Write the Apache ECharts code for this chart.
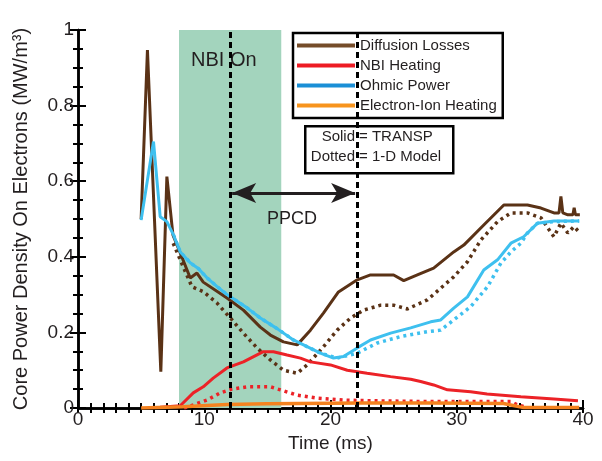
<!DOCTYPE html>
<html>
<head>
<meta charset="utf-8">
<script src="https://cdn.jsdelivr.net/npm/echarts@6.0.0/dist/echarts.min.js"></script>
<style>
html,body{margin:0;padding:0;background:#fff;}
#main{width:602px;height:461px;}
</style>
</head>
<body>
<div id="main"></div>
<script>
// time (ms), power density (MW/m^3) -- TRANSP (solid)
var diffusionTransp = [[5.0,0.50],[5.5,0.947],[6.56,0.096],[7.04,0.612],[7.52,0.458],[8.1,0.41],[8.89,0.344],[9.42,0.357],[9.92,0.333],[11.8,0.291],[13.1,0.259],[14.44,0.214],[15.24,0.193],[16.27,0.175],[17.36,0.167],[18.41,0.206],[19.44,0.251],[20.63,0.307],[22.12,0.339],[23.17,0.352],[25.0,0.352],[25.8,0.337],[26.88,0.352],[28.17,0.37],[29.76,0.413],[30.56,0.431],[32.14,0.484],[33.73,0.537],[35.6,0.537],[36.67,0.529],[37.7,0.516],[38.1,0.516],[38.25,0.56],[38.4,0.516],[38.8,0.511],[39.2,0.511],[39.3,0.53],[39.4,0.511],[39.75,0.511]];
var nbiTransp = [[6.5,0.002],[8.1,0.006],[9.13,0.04],[9.92,0.056],[10.71,0.079],[11.8,0.106],[13.1,0.122],[14.68,0.149],[15.48,0.149],[16.56,0.14],[17.62,0.132],[18.41,0.122],[20.0,0.114],[21.33,0.1],[22.9,0.092],[24.76,0.083],[26.35,0.076],[27.14,0.07],[28.17,0.061],[29.26,0.048],[31.1,0.043],[32.4,0.037],[35.08,0.03],[37.7,0.024],[39.6,0.019]];
var ohmicTransp = [[5.0,0.497],[5.98,0.705],[6.51,0.506],[7.04,0.493],[7.56,0.458],[8.1,0.413],[8.89,0.384],[9.5,0.37],[10.2,0.345],[11.0,0.322],[11.8,0.3],[13.39,0.265],[14.44,0.238],[15.77,0.21],[17.06,0.18],[17.86,0.167],[19.2,0.145],[20.24,0.132],[21.03,0.136],[22.12,0.159],[23.17,0.18],[24.76,0.198],[26.35,0.212],[27.94,0.228],[28.73,0.233],[29.76,0.264],[30.85,0.294],[32.14,0.365],[33.23,0.392],[34.29,0.436],[35.3,0.453],[36.4,0.489],[37.7,0.495],[39.7,0.495]];
var eiTransp = [[5.0,0.0],[8.3,0.003],[11.8,0.009],[15.0,0.011],[22.5,0.013],[28.0,0.013],[33.7,0.012],[35.3,0.001],[39.7,0.001]];

// 1-D model (dotted)
var diffusionModel = [[7.54,0.436],[8.33,0.374],[9.02,0.321],[9.92,0.308],[11.0,0.278],[12.2,0.233],[13.1,0.198],[14.18,0.159],[15.24,0.127],[16.27,0.1],[17.36,0.092],[18.15,0.114],[19.44,0.162],[20.53,0.206],[21.59,0.238],[22.62,0.259],[23.97,0.272],[25.0,0.272],[26.09,0.262],[27.67,0.286],[28.73,0.317],[29.76,0.347],[30.85,0.387],[31.9,0.444],[33.23,0.493],[34.29,0.516],[35.6,0.516],[36.67,0.503],[37.7,0.453],[38.25,0.489],[38.8,0.463],[39.29,0.48],[39.76,0.463]];
var nbiModel = [[8.4,0.0],[9.13,0.008],[10.21,0.021],[11.27,0.04],[12.2,0.05],[13.39,0.056],[15.24,0.056],[16.03,0.048],[17.36,0.034],[18.94,0.026],[21.03,0.021],[23.41,0.019],[27.94,0.017],[34.29,0.017],[34.82,0.008],[35.3,0.004]];
var ohmicModel = [[7.56,0.458],[8.1,0.413],[8.89,0.384],[9.5,0.37],[10.2,0.345],[11.0,0.322],[11.8,0.3],[13.39,0.265],[14.44,0.238],[15.77,0.21],[17.06,0.18],[17.86,0.167],[19.2,0.145],[20.53,0.132],[22.12,0.145],[23.7,0.172],[25.56,0.189],[27.67,0.202],[28.73,0.206],[29.76,0.233],[31.1,0.268],[32.44,0.321],[33.49,0.383],[34.29,0.413],[35.08,0.436],[35.6,0.463],[36.4,0.489],[37.7,0.493],[39.7,0.495]];

var legendNames = ['Diffusion Losses','NBI Heating','Ohmic Power','Electron-Ion Heating'];
var nbiWindow = [8.0, 16.1];     // NBI on, ms
var ppcdWindow = [12.06, 22.1];  // PPCD, ms
var arrowLevel = 0.569;

var BROWN = '#5a3216', RED = '#ec2227', BLUE = '#3ec0ef', ORANGE = '#f5821f';
var FONT = 'Liberation Sans';

function solid(name, data, color, w) {
	return {
		name: name, type: 'line', data: data, symbol: 'none', silent: true,
		lineStyle: { color: color, width: w || 3 }, itemStyle: { color: color }
	};
}
function dotted(name, data, color) {
	return {
		name: name, type: 'line', data: data, symbol: 'none', silent: true,
		lineStyle: { color: color, width: 3.5, type: [3, 4], cap: 'butt' }, itemStyle: { color: color }
	};
}

var chart = echarts.init(document.getElementById('main'));

var series = [
	dotted('Diffusion Losses 1-D', diffusionModel, BROWN),
	dotted('Ohmic Power 1-D', ohmicModel, BLUE),
	dotted('NBI Heating 1-D', nbiModel, RED),
	solid('Diffusion Losses', diffusionTransp, BROWN),
	solid('Ohmic Power', ohmicTransp, BLUE),
	solid('NBI Heating', nbiTransp, RED),
	solid('Electron-Ion Heating', eiTransp, ORANGE, 3.5)
];

// green band for NBI
series[0].markArea = {
	silent: true,
	itemStyle: { color: '#a3d4bd', opacity: 1 },
	data: [[{ xAxis: nbiWindow[0] }, { xAxis: nbiWindow[1] }]]
};
// PPCD dashed lines + double arrow
series[6].markLine = {
	silent: true,
	symbol: 'none',
	label: { show: false },
	lineStyle: { color: '#000', width: 3, type: [6, 4] },
	data: [
		{ xAxis: ppcdWindow[0] },
		{ xAxis: ppcdWindow[1] },
		[
			{ coord: [ppcdWindow[0] + 0.15, arrowLevel], symbol: 'arrow', symbolSize: [15, 24],
			  lineStyle: { type: 'solid', width: 3, color: '#231f20' } },
			{ coord: [ppcdWindow[1] - 0.15, arrowLevel], symbol: 'arrow', symbolSize: [15, 24] }
		]
	]
};

var axisLine = { show: true, lineStyle: { color: '#000', width: 2.5 } };
var tickStyle = { color: '#000', width: 2 };

var option = {
	backgroundColor: '#fff',
	animation: false,
	grid: { left: 78, right: 19, top: 30, bottom: 53 },
	legend: {
		orient: 'vertical', left: 293, top: 33,
		padding: [5, 6, 5, 4], itemGap: 5,
		borderColor: '#000', borderWidth: 2.5, backgroundColor: '#fff',
		itemWidth: 58, itemHeight: 4, icon: 'rect', selectedMode: false,
		textStyle: { fontFamily: FONT, fontSize: 15, color: '#231f20' },
		data: [
			{ name: legendNames[0], itemStyle: { color: '#754c29' } },
			{ name: legendNames[1], itemStyle: { color: '#ed1c24' } },
			{ name: legendNames[2], itemStyle: { color: '#1b8fd6' } },
			{ name: legendNames[3], itemStyle: { color: '#f7941d' } }
		]
	},
	xAxis: [{
		type: 'value', min: 0, max: 40, interval: 10, position: 'bottom',
		name: 'Time (ms)', nameLocation: 'middle', nameGap: 21,
		nameTextStyle: { fontFamily: FONT, fontSize: 19, color: '#231f20' },
		axisLine: axisLine,
		axisTick: { inside: true, length: 8, lineStyle: tickStyle },
		minorTick: { show: true, splitNumber: 10, length: 5, lineStyle: tickStyle },
		axisLabel: { fontFamily: FONT, fontSize: 19, color: '#231f20', margin: 2 },
		splitLine: { show: false }
	}, {
		type: 'value', min: 0, max: 40, interval: 10, position: 'top',
		axisLine: axisLine,
		axisTick: { inside: true, length: 5, lineStyle: tickStyle },
		minorTick: { show: true, splitNumber: 10, length: 5, lineStyle: tickStyle },
		axisLabel: { show: false }, splitLine: { show: false }
	}],
	yAxis: [{
		type: 'value', min: 0, max: 1, interval: 0.2, position: 'left',
		name: 'Core Power Density On Electrons (MW/m³)', nameLocation: 'middle', nameGap: 47,
		nameTextStyle: { fontFamily: FONT, fontSize: 20, color: '#231f20' },
		axisLine: axisLine,
		axisTick: { inside: true, length: 8, lineStyle: tickStyle },
		minorTick: { show: true, splitNumber: 4, length: 5, lineStyle: tickStyle },
		axisLabel: { fontFamily: FONT, fontSize: 19, color: '#231f20', margin: 4 },
		splitLine: { show: false }
	}, {
		type: 'value', min: 0, max: 1, interval: 0.2, position: 'right',
		axisLine: axisLine,
		axisTick: { inside: true, length: 8, lineStyle: tickStyle },
		minorTick: { show: true, splitNumber: 4, length: 5, lineStyle: tickStyle },
		axisLabel: { show: false }, splitLine: { show: false }
	}],
	graphic: [
		{ type: 'text', left: 191, top: 50, z: 3, style: { text: 'NBI On', fontFamily: FONT, fontSize: 20, fill: '#231f20' } },
		{ type: 'text', left: 267, top: 210, z: 3, style: { text: 'PPCD', fontFamily: FONT, fontSize: 18, fill: '#231f20' } },
		{ type: 'rect', left: 304, top: 125, z: 3, shape: { width: 148, height: 47 },
		  style: { fill: '#fff', stroke: '#000', lineWidth: 2.5 } },
		{ type: 'text', x: 355, y: 137, z: 4, style: { text: 'Solid', align: 'right', verticalAlign: 'middle', fontFamily: FONT, fontSize: 15, fill: '#231f20' } },
		{ type: 'text', x: 359, y: 137, z: 4, style: { text: '= TRANSP', align: 'left', verticalAlign: 'middle', fontFamily: FONT, fontSize: 15, fill: '#231f20' } },
		{ type: 'text', x: 355, y: 157, z: 4, style: { text: 'Dotted', align: 'right', verticalAlign: 'middle', fontFamily: FONT, fontSize: 15, fill: '#231f20' } },
		{ type: 'text', x: 359, y: 157, z: 4, style: { text: '= 1-D Model', align: 'left', verticalAlign: 'middle', fontFamily: FONT, fontSize: 15, fill: '#231f20' } }
	],
	series: series
};

chart.setOption(option);
window.onresize = chart.resize;
</script>
</body>
</html>
